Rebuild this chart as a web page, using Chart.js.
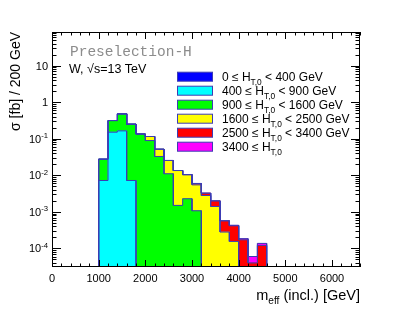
<!DOCTYPE html>
<html>
<head>
<meta charset="utf-8">
<script src="https://cdn.jsdelivr.net/npm/chart.js@4.4.1/dist/chart.umd.min.js"></script>
<style>
  html, body { margin: 0; padding: 0; background: #fff; }
  #wrap { width: 399px; height: 316px; }
</style>
</head>
<body>
<div id="wrap"><canvas id="histo" width="399" height="316"></canvas></div>
<script>
// bin lower edges (GeV), 200 GeV wide
const binLow = [1000, 1200, 1400, 1600, 1800, 2000, 2200, 2400, 2600, 2800, 3000, 3200, 3400, 3600, 3800, 4000, 4200, 4400];
const binWidth = 200;

// contributions per H_T,0 slice, fb / 200 GeV
const ht0to400     = [0, 0, 0, 0, 0, 0, 0, 0, 0, 0, 0, 0, 0, 0, 0, 0, 0, 0];
const ht400to900   = [0.0072, 0.151, 0.164, 0.0072, 0, 0, 0, 0, 0, 0, 0, 0, 0, 0, 0, 0, 0, 0];
const ht900to1600  = [0.0204, 0.163, 0.314, 0.243, 0.133, 0.089, 0.0327, 0.011, 0.0015, 0.00228, 0.00107, 0, 0, 0, 0, 0, 0, 0];
const ht1600to2500 = [0, 0, 0, 0, 0.002, 0.026, 0.0191, 0.0144, 0.012, 0.008, 0.0044, 0.0028, 0.0014, 0.00028, 0.000155, 0, 0, 0];
const ht2500to3400 = [0, 0, 0, 0, 0, 0, 0, 0, 0, 0.0002, 0.0005, 0.00045, 0.0006, 0.00029, 0.00026, 0.000172, 0.00004, 0.000121];
const ht3400up     = [0, 0, 0, 0, 0, 0, 0, 0, 0, 0, 0, 0, 0, 0, 0.000014, 0.000013, 0.00002, 0.000016];

const seriesValues = [ht0to400, ht400to900, ht900to1600, ht1600to2500, ht2500to3400, ht3400up];
const seriesLabels = [
    '0 ≤ H_{T,0} < 400 GeV',
    '400 ≤ H_{T,0} < 900 GeV',
    '900 ≤ H_{T,0} < 1600 GeV',
    '1600 ≤ H_{T,0} < 2500 GeV',
    '2500 ≤ H_{T,0} < 3400 GeV',
    '3400 ≤ H_{T,0}'
];
const seriesColors = ['#0000ff', '#00ffff', '#00ff00', '#ffff00', '#ff0000', '#ff00ff'];

const xTicks = [0, 1000, 2000, 3000, 4000, 5000, 6000];
const yTicks = [1e-4, 1e-3, 1e-2, 1e-1, 1, 10];
const yTickLabels = ['10^{-4}', '10^{-3}', '10^{-2}', '10^{-1}', '1', '10'];

const xMax = 6600;
const yMin = 3.1e-5, yMax = 83;
const lineColor = '#3c3cb4';
const sans = '"Liberation Sans", Arial, Helvetica, sans-serif';

// draws text with _{sub} and ^{sup} pieces, returns width
function richText(ctx, str, x, y, size, measureOnly) {
    const parts = [];
    const re = /([_^])\{([^}]*)\}/g;
    let last = 0, m;
    while ((m = re.exec(str)) !== null) {
        if (m.index > last) parts.push({ t: str.slice(last, m.index), k: '' });
        parts.push({ t: m[2], k: m[1] });
        last = re.lastIndex;
    }
    if (last < str.length) parts.push({ t: str.slice(last), k: '' });

    let cx = x;
    parts.forEach(p => {
        const s = p.k ? size * 0.7 : size;
        const dy = p.k === '_' ? size * 0.28 : (p.k === '^' ? -size * 0.42 : 0);
        ctx.font = `${s}px ${sans}`;
        if (!measureOnly) ctx.fillText(p.t, cx, y + dy);
        cx += ctx.measureText(p.t).width;
    });
    return cx - x;
}

const decorations = {
    id: 'decorations',
    afterDatasetsDraw(chart) {
        const { ctx, chartArea: a, scales: { x, y } } = chart;
        ctx.save();

        // frame
        ctx.strokeStyle = '#000';
        ctx.lineWidth = 1;
        ctx.strokeRect(a.left + 0.5, a.top + 0.5, a.right - a.left - 1, a.bottom - a.top - 1);

        // x ticks, inward on bottom and top
        ctx.beginPath();
        for (let v = 0; v <= xMax; v += 200) {
            const px = Math.round(x.getPixelForValue(v)) + 0.5;
            const len = v % 1000 === 0 ? 7 : 3.5;
            ctx.moveTo(px, a.bottom); ctx.lineTo(px, a.bottom - len);
            ctx.moveTo(px, a.top); ctx.lineTo(px, a.top + len);
        }
        // y ticks, inward on left and right
        for (let d = -5; d <= 1; d++) {
            for (let mm = 1; mm <= 9; mm++) {
                const v = mm * Math.pow(10, d);
                if (v < yMin || v > yMax) continue;
                const py = Math.round(y.getPixelForValue(v)) + 0.5;
                const len = mm === 1 ? 9 : 4.5;
                ctx.moveTo(a.left, py); ctx.lineTo(a.left + len, py);
                ctx.moveTo(a.right, py); ctx.lineTo(a.right - len, py);
            }
        }
        ctx.stroke();

        ctx.fillStyle = '#000';
        // x tick labels
        ctx.textAlign = 'center';
        ctx.textBaseline = 'alphabetic';
        ctx.font = `11px ${sans}`;
        xTicks.forEach(v => ctx.fillText(String(v), x.getPixelForValue(v), a.bottom + 15));

        // y tick labels
        ctx.textAlign = 'left';
        yTicks.forEach((v, i) => {
            const w = richText(ctx, yTickLabels[i], 0, 0, 11, true);
            richText(ctx, yTickLabels[i], a.left - 4 - w, y.getPixelForValue(v) + 4, 11);
        });

        // axis titles
        const tw = richText(ctx, 'm_{eff} (incl.) [GeV]', 0, 0, 14.5, true);
        richText(ctx, 'm_{eff} (incl.) [GeV]', a.right - tw, 300, 14.5);

        ctx.save();
        ctx.translate(20, a.top);
        ctx.rotate(-Math.PI / 2);
        ctx.textAlign = 'right';
        ctx.font = `14px ${sans}`;
        ctx.fillText('σ [fb] / 200 GeV', 0, 0);
        ctx.restore();

        // labels inside the frame
        ctx.textAlign = 'left';
        ctx.fillStyle = '#8c8c8c';
        ctx.font = '14.5px "Liberation Mono", "Courier New", monospace';
        ctx.fillText('Preselection-H', 70, 56);
        ctx.fillStyle = '#000';
        ctx.font = `12.5px ${sans}`;
        ctx.fillText('W, √s=13 TeV', 69, 73);

        // legend
        seriesLabels.forEach((lab, i) => {
            const cy = 76.7 + i * 14;
            ctx.fillStyle = seriesColors[i];
            ctx.fillRect(177, cy - 4.5, 36, 9);
            ctx.strokeStyle = lineColor;
            ctx.strokeRect(177.5, cy - 4.5, 35, 9);
            ctx.fillStyle = '#000';
            richText(ctx, lab, 222, cy + 4.5, 12);
        });

        ctx.restore();
    }
};

class StackPlot {
    constructor(canvasId) {
        this.canvas = document.getElementById(canvasId);
        this.render();
    }

    barDatasets() {
        return seriesValues.map((vals, k) => ({
            type: 'bar',
            label: seriesLabels[k],
            data: binLow.map((lo, i) => ({ x: lo + binWidth / 2, y: vals[i] > 0 ? vals[i] : null })),
            backgroundColor: seriesColors[k],
            borderWidth: 0,
            barPercentage: 1,
            categoryPercentage: 1,
            stack: 'mc',
            order: 2
        }));
    }

    // step outline of each cumulative histogram, like THStack draws it
    outlineDatasets() {
        const out = [];
        const cum = binLow.map(() => 0);
        seriesValues.forEach((vals, k) => {
            vals.forEach((v, i) => { cum[i] += v; });
            const used = cum.map((c, i) => c > 0 ? i : -1).filter(i => i >= 0);
            if (!used.length) return;
            const first = used[0], last = used[used.length - 1];
            const pts = [{ x: binLow[first], y: yMin }];
            for (let i = first; i <= last; i++) {
                const v = cum[i] > 0 ? cum[i] : yMin;
                pts.push({ x: binLow[i], y: v }, { x: binLow[i] + binWidth, y: v });
            }
            pts.push({ x: binLow[last] + binWidth, y: yMin });
            out.push({
                type: 'line',
                data: pts,
                borderColor: lineColor,
                borderWidth: 1,
                pointRadius: 0,
                fill: false,
                tension: 0,
                stack: 'outline' + k,
                order: 1
            });
        });
        return out;
    }

    render() {
        new Chart(this.canvas, {
            type: 'bar',
            data: { datasets: [...this.barDatasets(), ...this.outlineDatasets()] },
            options: {
                responsive: false,
                animation: false,
                events: [],
                layout: { padding: { left: 52, right: 39, top: 32, bottom: 49 } },
                scales: {
                    x: { type: 'linear', min: 0, max: xMax, offset: false, display: false, stacked: true },
                    y: { type: 'logarithmic', min: yMin, max: yMax, display: false, stacked: true }
                },
                plugins: { legend: { display: false }, tooltip: { enabled: false } }
            },
            plugins: [decorations]
        });
    }
}

document.addEventListener('DOMContentLoaded', () => {
    new StackPlot('histo');
});
</script>
</body>
</html>
